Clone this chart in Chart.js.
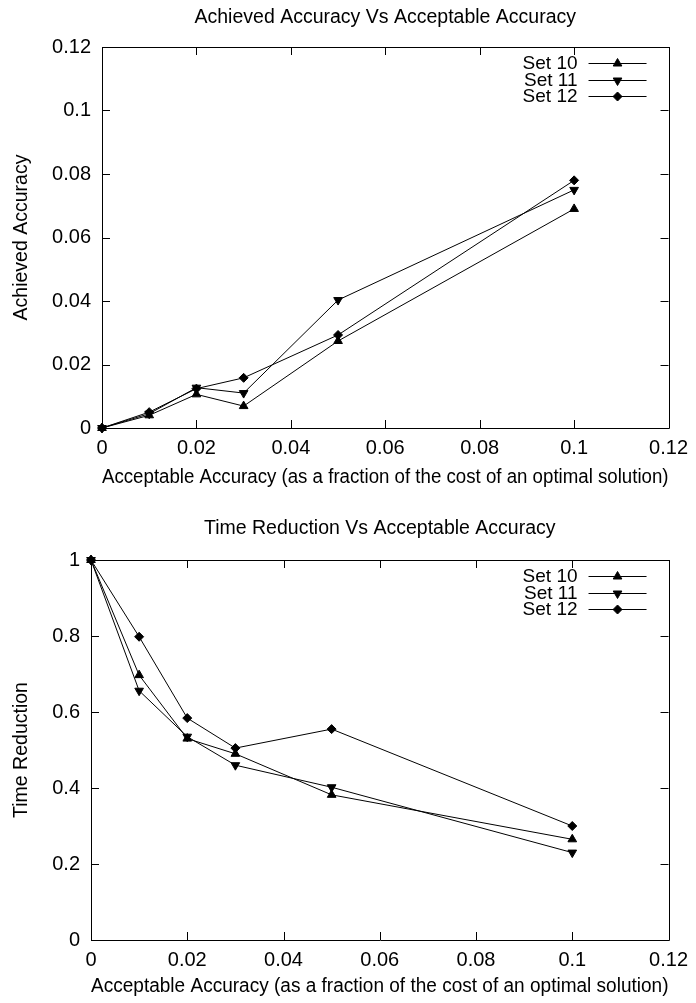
<!DOCTYPE html>
<html>
<head>
<meta charset="utf-8">
<script src="https://cdn.jsdelivr.net/npm/chart.js@4.4.1/dist/chart.umd.min.js"></script>
<style>
  html, body { margin: 0; padding: 0; background: #fff; }
  body { width: 696px; height: 1003px; position: relative; overflow: hidden; }
  .wrap { position: absolute; left: 0; width: 696px; }
  canvas { display: block; }
</style>
</head>
<body>
<div class="wrap" style="top:0;height:500px"><canvas id="c1" width="696" height="500"></canvas></div>
<div class="wrap" style="top:500px;height:503px"><canvas id="c2" width="696" height="503"></canvas></div>
<script>
// ---- data ----
const seriesNames = ['Set 10', 'Set 11', 'Set 12'];
const acceptable = [0, 0.01, 0.02, 0.03, 0.05, 0.1];

const achievedSet10 = [0, 0.0040, 0.0106, 0.0069, 0.0274, 0.069];
const achievedSet11 = [0, 0.0045, 0.0127, 0.0110, 0.0403, 0.075];
const achievedSet12 = [0, 0.0050, 0.0124, 0.0158, 0.0293, 0.078];

const timeSet10 = [1, 0.697, 0.530, 0.490, 0.382, 0.265];
const timeSet11 = [1, 0.656, 0.535, 0.460, 0.402, 0.230];
const timeSet12 = [1, 0.798, 0.584, 0.505, 0.555, 0.300];

const xTicks = [0, 0.02, 0.04, 0.06, 0.08, 0.1, 0.12];
const xTickLabels = ['0', '0.02', '0.04', '0.06', '0.08', '0.1', '0.12'];
const yTicksTop = [0, 0.02, 0.04, 0.06, 0.08, 0.1, 0.12];
const yTickLabelsTop = ['0', '0.02', '0.04', '0.06', '0.08', '0.1', '0.12'];
const yTicksBottom = [0, 0.2, 0.4, 0.6, 0.8, 1];
const yTickLabelsBottom = ['0', '0.2', '0.4', '0.6', '0.8', '1'];

// ---- styles ----
const FONT = '"Liberation Sans", Arial, Helvetica, sans-serif';
Chart.defaults.color = '#000';
Chart.defaults.font.family = FONT;

const markerStyles = [
  { pointStyle: 'triangle', radius: 5, rotation: 0 },
  { pointStyle: 'triangle', radius: 5, rotation: 180 },
  { pointStyle: 'rectRot', radius: 4.5, rotation: 0 }
];

function makeDatasets(valuesList) {
  return valuesList.map((vals, i) => ({
    label: seriesNames[i],
    data: acceptable.map((x, j) => ({ x: x, y: vals[j] })),
    borderColor: '#000',
    backgroundColor: '#000',
    borderWidth: 1,
    pointStyle: markerStyles[i].pointStyle,
    pointRadius: markerStyles[i].radius,
    pointRotation: markerStyles[i].rotation,
    pointBorderWidth: 1,
    pointBackgroundColor: '#000',
    pointBorderColor: '#000',
    tension: 0,
    clip: false
  }));
}

// Frame with gnuplot-like inward ticks on all four sides
const framePlugin = {
  id: 'frame',
  beforeDatasetsDraw(chart) {
    const { ctx, chartArea: a, scales } = chart;
    const tl = 8;
    ctx.save();
    ctx.strokeStyle = '#000';
    ctx.lineWidth = 1;
    ctx.beginPath();
    ctx.rect(Math.round(a.left) + 0.5, Math.round(a.top) + 0.5,
             Math.round(a.right - a.left), Math.round(a.bottom - a.top));
    scales.x.ticks.forEach(t => {
      const px = Math.round(scales.x.getPixelForValue(t.value)) + 0.5;
      ctx.moveTo(px, a.bottom); ctx.lineTo(px, a.bottom - tl);
      ctx.moveTo(px, a.top); ctx.lineTo(px, a.top + tl);
    });
    scales.y.ticks.forEach(t => {
      const py = Math.round(scales.y.getPixelForValue(t.value)) + 0.5;
      ctx.moveTo(a.left, py); ctx.lineTo(a.left + tl, py);
      ctx.moveTo(a.right, py); ctx.lineTo(a.right - tl, py);
    });
    ctx.stroke();
    ctx.restore();
  }
};

// gnuplot-like key: right-aligned text, line sample with marker
const keyPlugin = {
  id: 'key',
  afterDatasetsDraw(chart) {
    const { ctx, chartArea: a } = chart;
    ctx.save();
    ctx.font = '19px ' + FONT;
    ctx.textAlign = 'right';
    ctx.textBaseline = 'middle';
    chart.data.datasets.forEach((ds, i) => {
      const y = Math.round(a.top + 16 + i * 16.5) + 0.5;
      ctx.fillStyle = '#000';
      ctx.fillText(ds.label, a.right - 91, y);
      ctx.strokeStyle = '#000';
      ctx.lineWidth = 1;
      ctx.beginPath();
      ctx.moveTo(a.right - 80, y);
      ctx.lineTo(a.right - 22, y);
      ctx.stroke();
      Chart.helpers.drawPoint(ctx, {
        pointStyle: ds.pointStyle,
        radius: ds.pointRadius,
        rotation: ds.pointRotation,
        borderWidth: 1
      }, a.right - 51, y);
    });
    ctx.restore();
  }
};

function makeChart(id, cfg) {
  const tickList = cfg.yTicks, tickLabels = cfg.yTickLabels;
  return new Chart(document.getElementById(id), {
    type: 'line',
    data: { datasets: makeDatasets(cfg.values) },
    options: {
      responsive: false,
      animation: false,
      layout: { padding: { left: 0, right: 21, top: 0, bottom: 0 } },
      plugins: {
        legend: { display: false },
        tooltip: { enabled: false },
        title: {
          display: true,
          fullSize: false,
          text: cfg.title,
          font: { size: 19.5, weight: 'normal', family: FONT },
          color: '#000',
          padding: { top: cfg.titlePadTop, bottom: cfg.titlePadBottom }
        }
      },
      scales: {
        x: {
          type: 'linear',
          min: 0, max: 0.12,
          grid: { display: false, drawTicks: false },
          border: { display: false },
          afterBuildTicks(scale) { scale.ticks = xTicks.map(v => ({ value: v })); },
          afterFit(scale) { scale.height = cfg.xHeight; },
          ticks: {
            padding: 8,
            font: { size: 20, family: FONT },
            color: '#000',
            maxRotation: 0,
            autoSkip: false,
            callback(v, i) { return xTickLabels[i]; }
          },
          title: {
            display: true,
            text: 'Acceptable Accuracy (as a fraction of the cost of an optimal solution)',
            font: { size: 20, family: FONT },
            color: '#000',
            padding: { top: 0, bottom: cfg.xTitlePad }
          }
        },
        y: {
          type: 'linear',
          min: tickList[0], max: tickList[tickList.length - 1],
          grid: { display: false, drawTicks: false },
          border: { display: false },
          afterBuildTicks(scale) { scale.ticks = tickList.map(v => ({ value: v })); },
          afterFit(scale) { scale.width = cfg.yWidth; },
          ticks: {
            padding: 11,
            font: { size: 20, family: FONT },
            color: '#000',
            autoSkip: false,
            callback(v, i) { return tickLabels[i]; }
          },
          title: {
            display: true,
            text: cfg.yTitle,
            font: { size: 19.5, family: FONT },
            color: '#000',
            padding: { top: 10, bottom: 0 }
          }
        }
      }
    },
    plugins: [framePlugin, keyPlugin]
  });
}

makeChart('c1', {
  title: 'Achieved Accuracy Vs Acceptable Accuracy',
  yTitle: 'Achieved Accuracy',
  values: [achievedSet10, achievedSet11, achievedSet12],
  yTicks: yTicksTop, yTickLabels: yTickLabelsTop,
  titlePadTop: 6.3, titlePadBottom: 17.3,
  xHeight: 72, xTitlePad: 11, yWidth: 102
});

makeChart('c2', {
  title: 'Time Reduction Vs Acceptable Accuracy',
  yTitle: 'Time Reduction',
  values: [timeSet10, timeSet11, timeSet12],
  yTicks: yTicksBottom, yTickLabels: yTickLabelsBottom,
  titlePadTop: 17.3, titlePadBottom: 19.3,
  xHeight: 63, xTitlePad: 5, yWidth: 91
});
</script>
</body>
</html>
